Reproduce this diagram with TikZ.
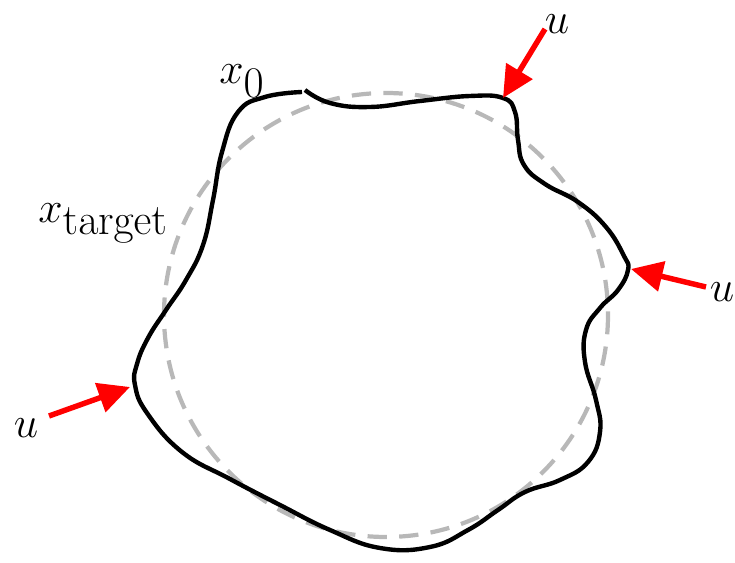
\documentclass[tikz,border=0pt]{standalone}
\usetikzlibrary{arrows.meta}
\begin{document}
\begin{tikzpicture}[x=0.02cm,y=-0.02cm,
  lbl/.style={font=\fontsize{35}{40}\selectfont, inner sep=0pt},
  ctrl/.style={red, line width=3.1pt, -{Triangle[length=18pt,width=17pt]}},
  target/.style={draw=black!28, line width=2.4pt, dash pattern=on 11pt off 7pt},
  traj/.style={black, line width=2.5pt, line join=round}]
\useasboundingbox (0,0) rectangle (735,563);
\draw[target] (386,315) circle[radius=222];
\draw[traj] plot[smooth, tension=0.75] coordinates {
 (305,90) (330,103) (370,107) (420,101) (470,96) (503,98)
 (515,112) (518,140) (524,165) (545,184) (578,202) (606,227) (624,256) (628,270)
 (618,290) (600,308) (586,330) (585,362) (596,400) (600,432) (588,462) (560,480)
 (525,492) (498,510) (468,530) (430,547) (380,548) (330,530) (280,505) (230,479)
 (182,452) (147,413) (135,385) (137,364) (148,338) (166,310) (186,280) (203,245)
 (213,200) (222,152) (238,112) (265,97) (302,92)};
\coordinate (tTop) at (503,98);
\coordinate (tRight) at (631,269);
\coordinate (tLeft) at (130,387);
\node[lbl] (uTop) at (557,24) {$u$};
\node[lbl] (uRight) at (722,292) {$u$};
\node[lbl] (uLeft) at (26,428) {$u$};
\node[lbl, anchor=base] (x0) at (242,84) {$x_0$};
\node[lbl, anchor=base] (xt) at (103,223) {$x_{\mathrm{target}}$};
\coordinate (sTop) at (545,29);
\coordinate (sRight) at (706,287);
\coordinate (sLeft) at (49,416);
\draw[ctrl] (sTop) -- (tTop);
\draw[ctrl] (sRight) -- (tRight);
\draw[ctrl] (sLeft) -- (tLeft);
\end{tikzpicture}
\end{document}
